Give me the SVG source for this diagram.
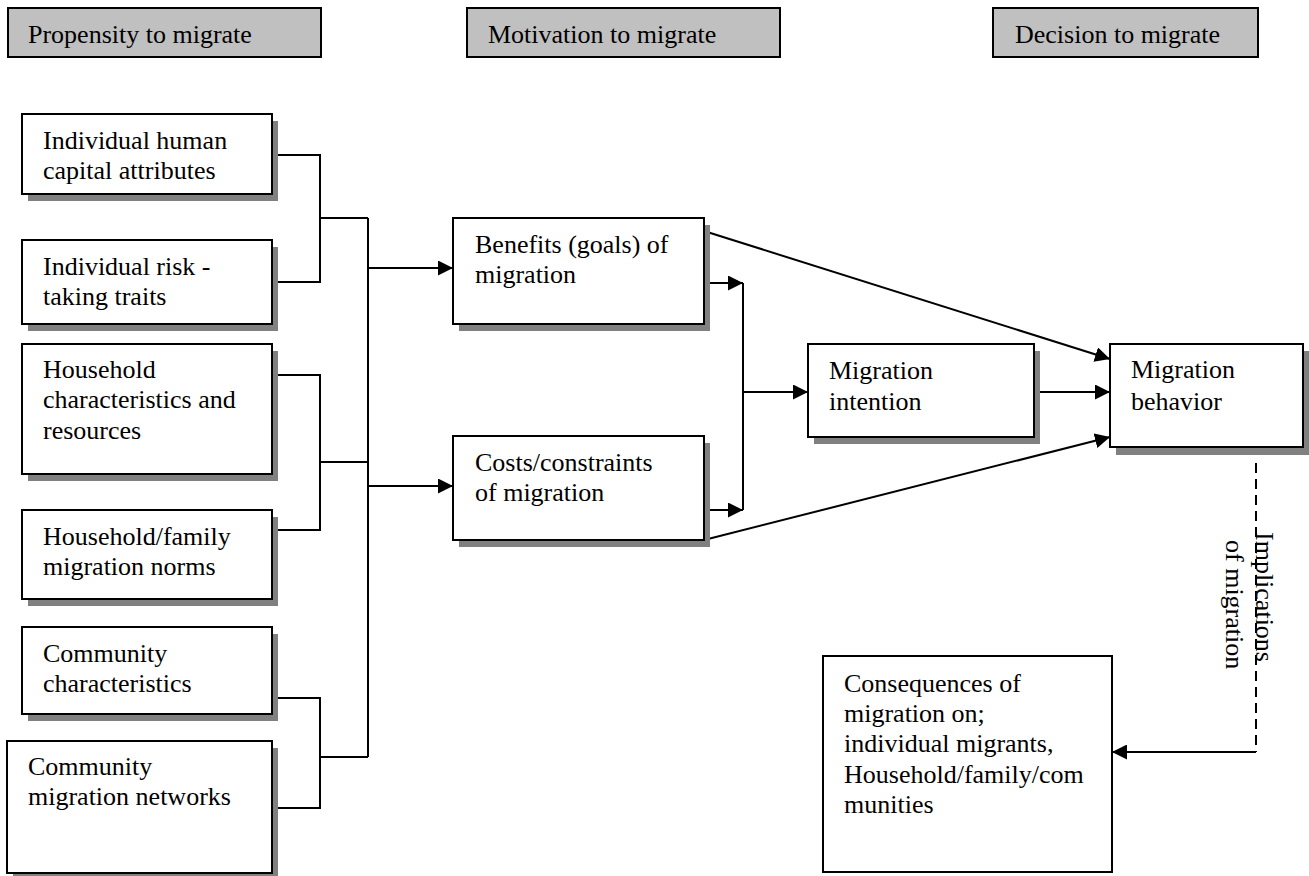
<svg xmlns="http://www.w3.org/2000/svg" width="1309" height="876" viewBox="0 0 1309 876">
<style>
  text { font-family: "Liberation Serif", "Times New Roman", serif; font-size: 26px; fill: #000; }
  .hdr { fill: #c0c0c0; stroke: #000; stroke-width: 2; }
  .box { fill: #fff; stroke: #000; stroke-width: 2; }
  .sh { fill: #808080; stroke: none; }
  .ln { fill: none; stroke: #000; stroke-width: 2; }
  .arr { fill: none; stroke: #000; stroke-width: 2; marker-end: url(#ah); }
  .dash { fill: none; stroke: #000; stroke-width: 2; stroke-dasharray: 10 6; }
</style>
<defs>
  <marker id="ah" markerUnits="userSpaceOnUse" markerWidth="16" markerHeight="15" refX="15" refY="7.5" orient="auto">
    <path d="M0,0 L15,7.5 L0,15 Z" fill="#000"/>
  </marker>
</defs>
<rect width="1309" height="876" fill="#fff"/>

<g id="hdr-propensity">
  <rect class="hdr" x="8" y="8" width="313" height="49"/>
  <text x="28" y="43">Propensity to migrate</text>
</g>
<g id="hdr-motivation">
  <rect class="hdr" x="467" y="8" width="313" height="49"/>
  <text x="488" y="43">Motivation to migrate</text>
</g>
<g id="hdr-decision">
  <rect class="hdr" x="993" y="8" width="265" height="49"/>
  <text x="1015" y="43">Decision to migrate</text>
</g>

<g id="connectors">
  <polyline class="ln" points="272,155 320,155 320,282 272,282"/>
  <line class="ln" x1="320" y1="218" x2="368" y2="218"/>
  <polyline class="ln" points="272,375 320,375 320,530 272,530"/>
  <line class="ln" x1="320" y1="462" x2="368" y2="462"/>
  <polyline class="ln" points="272,698 320,698 320,808 272,808"/>
  <line class="ln" x1="320" y1="757" x2="368" y2="757"/>
  <line class="ln" x1="368" y1="218" x2="368" y2="757"/>
  <line class="arr" x1="368" y1="268" x2="453" y2="268"/>
  <line class="arr" x1="368" y1="486" x2="453" y2="486"/>
  <line class="arr" x1="704" y1="283" x2="743" y2="283"/>
  <line class="arr" x1="704" y1="510" x2="743" y2="510"/>
  <line class="ln" x1="743" y1="283" x2="743" y2="510"/>
  <line class="arr" x1="743" y1="392" x2="808" y2="392"/>
  <line class="arr" x1="704" y1="231" x2="1110" y2="359"/>
  <line class="arr" x1="704" y1="540" x2="1110" y2="437"/>
  <line class="arr" x1="1034" y1="392" x2="1110" y2="392"/>
  <line class="dash" x1="1256" y1="463" x2="1256" y2="752"/>
  <line class="arr" x1="1256" y1="752" x2="1112" y2="752"/>
  <g id="label-implications" transform="translate(1256,532) rotate(90)">
    <text x="0" y="0">Implications</text>
    <text x="8" y="30">of migration</text>
  </g>
</g>

<g id="n-human-capital">
  <rect class="sh" x="28" y="121" width="250" height="80"/>
  <rect class="box" x="22" y="114" width="250" height="80"/>
  <text x="43" y="149">Individual human</text>
  <text x="43" y="179">capital attributes</text>
</g>
<g id="n-risk">
  <rect class="sh" x="28" y="247" width="250" height="84"/>
  <rect class="box" x="22" y="240" width="250" height="84"/>
  <text x="43" y="275">Individual risk -</text>
  <text x="43" y="305">taking traits</text>
</g>
<g id="n-household">
  <rect class="sh" x="28" y="351" width="250" height="130"/>
  <rect class="box" x="22" y="344" width="250" height="130"/>
  <text x="43" y="378">Household</text>
  <text x="43" y="408">characteristics and</text>
  <text x="43" y="439">resources</text>
</g>
<g id="n-household-norms">
  <rect class="sh" x="28" y="517" width="250" height="89"/>
  <rect class="box" x="22" y="510" width="250" height="89"/>
  <text x="43" y="545">Household/family</text>
  <text x="43" y="575">migration norms</text>
</g>
<g id="n-community">
  <rect class="sh" x="28" y="634" width="250" height="87"/>
  <rect class="box" x="22" y="627" width="250" height="87"/>
  <text x="43" y="662">Community</text>
  <text x="43" y="692">characteristics</text>
</g>
<g id="n-community-networks">
  <rect class="sh" x="13" y="748" width="265" height="132"/>
  <rect class="box" x="7" y="741" width="265" height="132"/>
  <text x="28" y="775">Community</text>
  <text x="28" y="805">migration networks</text>
</g>
<g id="n-benefits">
  <rect class="sh" x="459" y="225" width="251" height="106"/>
  <rect class="box" x="453" y="218" width="251" height="106"/>
  <text x="475" y="253">Benefits (goals) of</text>
  <text x="475" y="283">migration</text>
</g>
<g id="n-costs">
  <rect class="sh" x="459" y="443" width="251" height="104"/>
  <rect class="box" x="453" y="436" width="251" height="104"/>
  <text x="475" y="471">Costs/constraints</text>
  <text x="475" y="501">of migration</text>
</g>
<g id="n-intention">
  <rect class="sh" x="814" y="351" width="226" height="93"/>
  <rect class="box" x="808" y="344" width="226" height="93"/>
  <text x="829" y="379">Migration</text>
  <text x="829" y="410"> intention</text>
</g>
<g id="n-behavior">
  <rect class="sh" x="1116" y="351" width="193" height="104"/>
  <rect class="box" x="1110" y="344" width="193" height="103"/>
  <text x="1131" y="378">Migration</text>
  <text x="1131" y="410">behavior</text>
</g>
<g id="n-consequences">
  <rect class="box" x="823" y="656" width="289" height="216"/>
  <text x="844" y="692">Consequences of</text>
  <text x="844" y="722">migration on;</text>
  <text x="844" y="752">individual migrants,</text>
  <text x="844" y="783">Household/family/com</text>
  <text x="844" y="813">munities</text>
</g>
</svg>
